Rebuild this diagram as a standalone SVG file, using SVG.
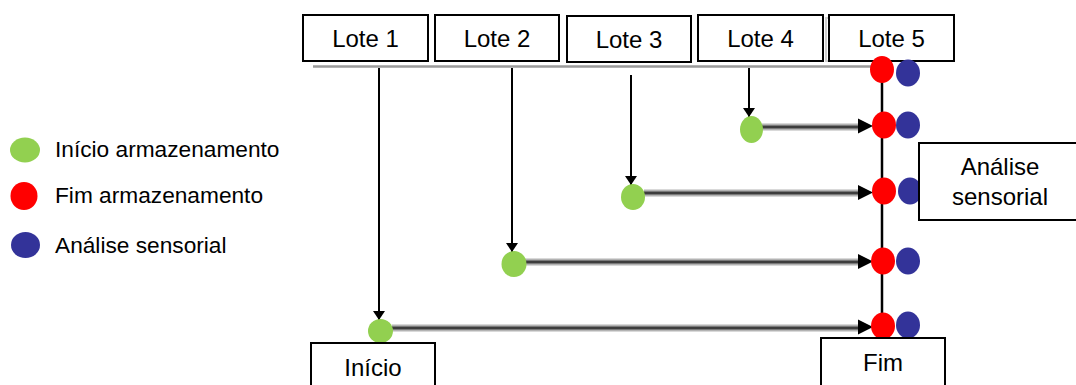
<svg xmlns="http://www.w3.org/2000/svg" width="1076" height="385" viewBox="0 0 1076 385">
  <style>
    .box { fill: #ffffff; stroke: #000000; stroke-width: 2; }
    .lbl { font-family: "Liberation Sans", Arial, sans-serif; font-size: 24px; fill: #000000; text-anchor: middle; }
    .leg { font-family: "Liberation Sans", Arial, sans-serif; font-size: 22.7px; fill: #000000; }
    .drop { stroke: #000000; stroke-width: 2; fill: none; }
    .flow-out { stroke: #b3b3b3; stroke-width: 7; fill: none; }
    .flow-mid { stroke: #7a7a7a; stroke-width: 4; fill: none; }
    .flow-in { stroke: #2a2a2a; stroke-width: 1.5; fill: none; }
    .start { fill: #92d050; }
    .end { fill: #ff0000; }
    .sens { fill: #333399; }
  </style>
  <defs>
    <marker id="tip" viewBox="0 0 10 10" refX="10" refY="5" markerWidth="9" markerHeight="12" orient="auto" markerUnits="userSpaceOnUse" preserveAspectRatio="none">
      <path d="M0,0 L10,5 L0,10 Z" fill="#000000"/>
    </marker>
  </defs>

  <rect width="1076" height="385" fill="#ffffff"/>

  <!-- legend -->
  <g id="legend">
    <ellipse class="start" cx="25" cy="150" rx="15" ry="12.5"/>
    <text class="leg" x="55" y="157">Início armazenamento</text>
    <ellipse class="end" cx="24" cy="196" rx="13.5" ry="14"/>
    <text class="leg" x="55" y="203">Fim armazenamento</text>
    <ellipse class="sens" cx="25.5" cy="245" rx="14.5" ry="13"/>
    <text class="leg" x="55" y="253">Análise sensorial</text>
  </g>

  <!-- connectors -->
  <g id="connectors">
    <!-- baseline under the batch labels -->
    <line x1="313" y1="66.5" x2="882" y2="66.5" stroke="#9a9a9a" stroke-width="2.5"/>
    <!-- time axis through the end points -->
    <line x1="882" y1="70" x2="882" y2="338" stroke="#000000" stroke-width="2.5"/>

    <!-- drops from each batch to its start point -->
    <line class="drop" x1="379" y1="68" x2="379" y2="320" marker-end="url(#tip)"/>
    <line class="drop" x1="512" y1="68" x2="512" y2="252" marker-end="url(#tip)"/>
    <line class="drop" x1="631" y1="75" x2="631" y2="185" marker-end="url(#tip)"/>
    <line class="drop" x1="749" y1="68" x2="749" y2="117" marker-end="url(#tip)"/>

    <!-- storage periods -->
    <g>
      <line class="flow-out" x1="392" y1="328" x2="860" y2="328"/>
      <line class="flow-mid" x1="392" y1="328" x2="860" y2="328"/>
      <line class="flow-in" x1="392" y1="328" x2="860" y2="328"/>
      <path d="M858,319.5 L873,327 L858,334.5 Z" fill="#000000"/>
    </g>
    <g>
      <line class="flow-out" x1="525" y1="262" x2="860" y2="262"/>
      <line class="flow-mid" x1="525" y1="262" x2="860" y2="262"/>
      <line class="flow-in" x1="525" y1="262" x2="860" y2="262"/>
      <path d="M858,254 L873,261.5 L858,269 Z" fill="#000000"/>
    </g>
    <g>
      <line class="flow-out" x1="644" y1="193" x2="860" y2="193"/>
      <line class="flow-mid" x1="644" y1="193" x2="860" y2="193"/>
      <line class="flow-in" x1="644" y1="193" x2="860" y2="193"/>
      <path d="M858,185 L873,192.5 L858,200 Z" fill="#000000"/>
    </g>
    <g>
      <line class="flow-out" x1="762" y1="127" x2="860" y2="127"/>
      <line class="flow-mid" x1="762" y1="127" x2="860" y2="127"/>
      <line class="flow-in" x1="762" y1="127" x2="860" y2="127"/>
      <path d="M858,118.5 L873,126 L858,133.5 Z" fill="#000000"/>
    </g>
  </g>

  <!-- batch labels -->
  <g id="lote1"><rect class="box" x="303" y="15" width="125" height="46"/><text class="lbl" x="365.5" y="47">Lote 1</text></g>
  <g id="lote2"><rect class="box" x="435" y="15" width="124" height="46"/><text class="lbl" x="497" y="47">Lote 2</text></g>
  <g id="lote3"><rect class="box" x="567" y="16" width="124" height="46"/><text class="lbl" x="629" y="48">Lote 3</text></g>
  <g id="lote4"><rect class="box" x="698" y="15" width="125" height="46"/><text class="lbl" x="760.5" y="47">Lote 4</text></g>
  <g id="lote5">
    <rect x="826" y="18" width="125" height="43" fill="none" stroke="#cfcfcf" stroke-width="2"/>
    <rect class="box" x="829" y="15" width="125" height="46"/>
    <text class="lbl" x="891.5" y="47">Lote 5</text>
  </g>

  <!-- start points -->
  <g id="start-points">
    <ellipse class="start" cx="380.5" cy="331" rx="12.5" ry="12"/>
    <ellipse class="start" cx="514" cy="264" rx="12.5" ry="13"/>
    <ellipse class="start" cx="633" cy="197" rx="12" ry="13"/>
    <ellipse class="start" cx="751.5" cy="129.5" rx="11.5" ry="13.5"/>
  </g>

  <!-- end points with sensory analysis -->
  <g id="end-points">
    <ellipse class="end" cx="882" cy="69.5" rx="12" ry="13.5"/>
    <ellipse class="sens" cx="908" cy="73" rx="12" ry="13.5"/>
    <ellipse class="end" cx="884" cy="125" rx="12" ry="13.5"/>
    <ellipse class="sens" cx="908" cy="125" rx="12" ry="13.5"/>
    <ellipse class="end" cx="884" cy="191" rx="12" ry="13.5"/>
    <ellipse class="sens" cx="910" cy="191" rx="12" ry="13.5"/>
    <ellipse class="end" cx="883" cy="261" rx="12" ry="13.5"/>
    <ellipse class="sens" cx="908" cy="261" rx="12" ry="13.5"/>
    <ellipse class="end" cx="883" cy="326" rx="12" ry="13.5"/>
    <ellipse class="sens" cx="908" cy="325" rx="12" ry="13.5"/>
  </g>

  <!-- sensory analysis callout -->
  <g id="analise">
    <rect class="box" x="919" y="143" width="162" height="77"/>
    <text class="lbl" x="1000" y="175">Análise</text>
    <text class="lbl" x="1000" y="205">sensorial</text>
  </g>

  <!-- start / end labels -->
  <g id="inicio"><rect class="box" x="311" y="343" width="124" height="50"/><text class="lbl" x="373" y="376">Início</text></g>
  <g id="fim"><rect class="box" x="821" y="338" width="124" height="55"/><text class="lbl" x="883" y="371">Fim</text></g>
</svg>
